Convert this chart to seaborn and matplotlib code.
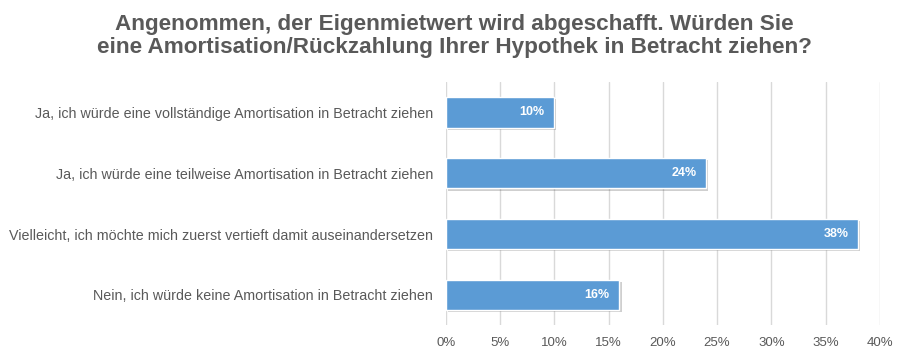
import matplotlib
matplotlib.use("Agg")
import matplotlib.pyplot as plt
import matplotlib.patheffects as pe
import seaborn as sns
import pandas as pd

categories = [
    "Ja, ich würde eine vollständige Amortisation in Betracht ziehen",
    "Ja, ich würde eine teilweise Amortisation in Betracht ziehen",
    "Vielleicht, ich möchte mich zuerst vertieft damit auseinandersetzen",
    "Nein, ich würde keine Amortisation in Betracht ziehen",
]
values = [10, 24, 38, 16]
ticks = [0, 5, 10, 15, 20, 25, 30, 35, 40]
title = ("Angenommen, der Eigenmietwert wird abgeschafft. Würden Sie\n"
         "eine Amortisation/Rückzahlung Ihrer Hypothek in Betracht ziehen?")

df = pd.DataFrame({"cat": categories, "val": values})

sns.set_theme(style="white")
plt.rcParams["font.family"] = ["Liberation Sans", "DejaVu Sans"]

fig = plt.figure(figsize=(9.08, 3.58), dpi=100)
ax = fig.add_axes([0.491, 0.091, 0.478, 0.68])

sns.barplot(data=df, x="val", y="cat", color="#5B9BD5", width=0.5,
            saturation=1, ax=ax, zorder=3)
for p in ax.patches:
    p.set_path_effects([pe.SimplePatchShadow(offset=(1.5, -1.5), alpha=0.25, shadow_rgbFace="#404040"),
                        pe.Normal()])

ax.set_xlim(0, 40)
ax.set_xticks(ticks)
ax.set_xticklabels([f"{t}%" for t in ticks], color="#595959", fontsize=9.5)
ax.tick_params(axis="y", labelsize=10.3, labelcolor="#595959", length=0, pad=9)
ax.tick_params(axis="x", length=0, pad=8)
ax.set_xlabel("")
ax.set_ylabel("")
ax.grid(axis="x", color="#D9D9D9", linewidth=1, zorder=0)
for s in ax.spines.values():
    s.set_visible(False)

for i, v in enumerate(values):
    ax.text(v - 0.9, i, f"{v}%", ha="right", va="center", color="white",
            fontsize=9, fontweight="bold", zorder=5)

fig.suptitle(title, x=0.5, y=0.962, fontsize=16.2, fontweight="bold",
             color="#595959", linespacing=1.15)

fig.savefig("out.png", dpi=100)
